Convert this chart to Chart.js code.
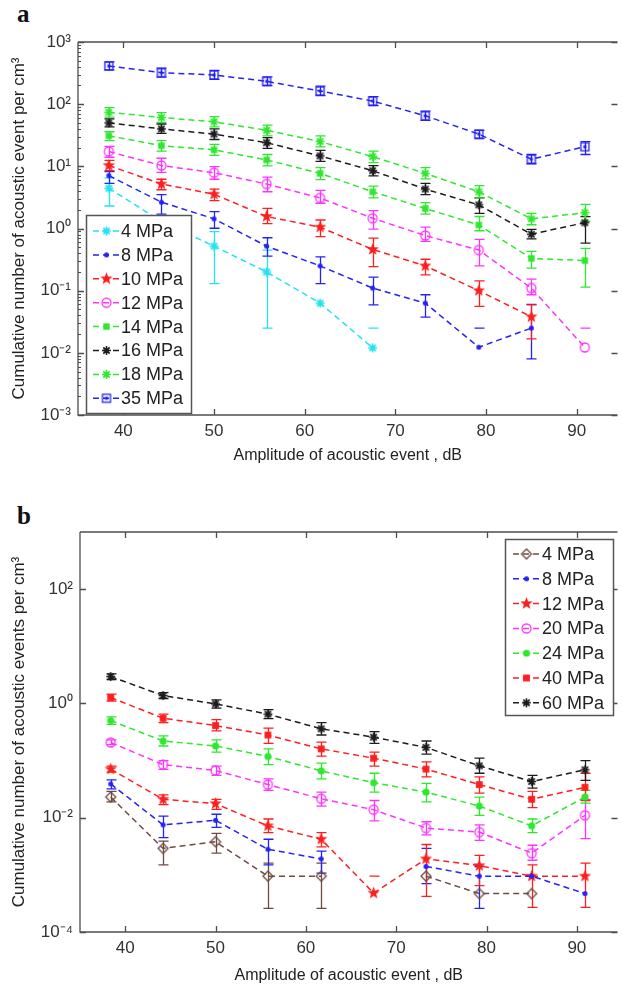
<!DOCTYPE html>
<html><head><meta charset="utf-8">
<script src="https://cdn.jsdelivr.net/npm/chart.js@4.4.1/dist/chart.umd.min.js"></script>
<style>
html,body{margin:0;padding:0;background:#fff;overflow:hidden;width:623px;height:989px;}
#ca{position:absolute;left:0;top:0;}
#cb{position:absolute;left:0;top:480px;}
.lbl{position:absolute;font-family:'Liberation Serif',serif;font-weight:bold;font-size:25px;line-height:1;color:#111;}
</style></head><body>
<div class="lbl" style="left:17px;top:1px">a</div>
<div class="lbl" style="left:17px;top:503px">b</div>
<canvas id="ca" width="623" height="470"></canvas>
<canvas id="cb" width="623" height="509"></canvas>
<script>
// ---------- DATA ----------
const amplitudes = [38.4, 44.2, 50.0, 55.8, 61.7, 67.5, 73.3, 79.2, 85.0, 90.9];
const xTicks = [40, 50, 60, 70, 80, 90];
const yTicksA = [1e-3, 1e-2, 1e-1, 1, 10, 100, 1000];
const yTickLabelsA = ['10⁻³', '10⁻²', '10⁻¹', '10⁰', '10¹', '10²', '10³'];
const yTicksB = [1e-4, 1e-2, 1, 100];
const yTickLabelsB = ['10⁻⁴', '10⁻²', '10⁰', '10²'];

const labelsA = ['4 MPa', '8 MPa', '10 MPa', '12 MPa', '14 MPa', '16 MPa', '18 MPa', '35 MPa'];
const a4   = [4.45, 1.3, 0.52, 0.2, 0.063, 0.012, null, null, null, null];
const a4Hi = [6.5, 1.6, 0.89, 0.45, null, 0.025, null, null, null, null];
const a4Lo = [2.3, 0.9, 0.13, 0.025, null, null, null, null, null, null];
const a8   = [7.1, 2.65, 1.43, 0.52, 0.25, 0.11, 0.063, 0.0123, 0.025, null];
const a8Hi = [8.2, 3.5, 1.87, 0.71, 0.35, 0.165, 0.086, 0.025, 0.06, null];
const a8Lo = [5.3, 1.7, 1.01, 0.36, 0.13, 0.059, 0.0375, null, 0.008, null];
const a10   = [10.3, 5.2, 3.56, 1.56, 1.05, 0.46, 0.25, 0.1, 0.038, null];
const a10Hi = [12.5, 6.2, 4.3, 2.1, 1.37, 0.70, 0.32, 0.144, 0.059, null];
const a10Lo = [8.5, 4.2, 2.8, 1.2, 0.74, 0.244, 0.18, 0.056, 0.0168, null];
const a12   = [17.3, 10.3, 7.9, 5.2, 3.1, 1.46, 0.77, 0.45, 0.11, 0.0122];
const a12Hi = [21, 13.5, 9.9, 6.7, 4.1, 1.94, 1.05, 0.67, 0.153, 0.025];
const a12Lo = [14, 8.0, 6.2, 3.9, 2.55, 0.975, 0.62, 0.25, 0.086, null];
const a14   = [31, 21.5, 18.4, 12.7, 7.7, 3.9, 2.1, 1.14, 0.33, 0.305];
const a14Hi = [36, 26, 22.5, 15.5, 9.5, 4.8, 2.6, 1.56, 0.43, 0.48];
const a14Lo = [26, 17.5, 15, 10.2, 6.1, 3.1, 1.7, 0.92, 0.23, 0.114];
const a16   = [50, 40, 33, 24, 14.7, 8.5, 4.3, 2.4, 0.81, 1.24];
const a16Hi = [58, 48, 40, 29, 18, 10.3, 5.3, 3.1, 0.97, 1.55];
const a16Lo = [43, 34, 27, 19.5, 12, 7, 3.5, 1.75, 0.68, 0.58];
const a18   = [74, 61, 52, 38, 25, 14.3, 7.7, 3.9, 1.43, 1.8];
const a18Hi = [88, 73, 63, 46, 31, 17.5, 9.5, 4.9, 1.75, 2.45];
const a18Lo = [62, 51, 43, 31, 20.5, 11.5, 6.3, 3.1, 1.15, 1.3];
const a35   = [411, 321, 295, 233, 163, 112, 65, 33, 13, 20.7];
const a35Hi = [480, 380, 350, 275, 195, 132, 77, 38, 15.5, 25];
const a35Lo = [355, 272, 250, 198, 137, 95, 55, 28, 11, 15.5];

const labelsB = ['4 MPa', '8 MPa', '12 MPa', '20 MPa', '24 MPa', '40 MPa', '60 MPa'];
const b4   = [0.023, 0.0029, 0.0038, 0.00095, 0.00095, null, 0.00095, 0.00047, 0.00047, null];
const b4Hi = [0.029, 0.0039, 0.0053, 0.0016, 0.0016, null, null, null, null, null];
const b4Lo = [0.019, 0.0015, 0.0024, 0.00026, 0.00026, null, null, null, null, null];
const b8   = [0.039, 0.0075, 0.009, 0.0028, 0.0019, null, 0.0014, 0.00095, 0.00095, 0.00047];
const b8Hi = [0.046, 0.0107, 0.0115, 0.0042, 0.0026, null, 0.0029, 0.0014, null, null];
const b8Lo = [0.032, 0.0045, 0.0068, 0.0015, 0.00107, null, 0.0007, 0.00026, null, null];
const b12   = [0.071, 0.021, 0.0176, 0.0072, 0.0042, 0.00048, 0.0019, 0.00145, 0.00095, 0.00095];
const b12Hi = [0.08, 0.025, 0.021, 0.0095, 0.0055, 0.00095, 0.0034, 0.0022, 0.0015, 0.0016];
const b12Lo = [0.063, 0.017, 0.014, 0.0055, 0.0031, null, 0.00042, 0.00065, 0.00027, 0.00027];
const b20   = [0.207, 0.085, 0.067, 0.038, 0.0215, 0.0138, 0.0066, 0.0056, 0.0024, 0.011];
const b20Hi = [0.23, 0.1, 0.08, 0.048, 0.028, 0.02, 0.0085, 0.0075, 0.0033, 0.021];
const b20Lo = [0.19, 0.07, 0.055, 0.03, 0.016, 0.0088, 0.005, 0.004, 0.0018, 0.0043];
const b24   = [0.5, 0.22, 0.18, 0.118, 0.066, 0.041, 0.028, 0.016, 0.0072, 0.023];
const b24Hi = [0.58, 0.27, 0.23, 0.16, 0.09, 0.06, 0.04, 0.023, 0.0095, 0.03];
const b24Lo = [0.43, 0.18, 0.14, 0.085, 0.048, 0.028, 0.019, 0.011, 0.0055, 0.018];
const b40   = [1.27, 0.55, 0.41, 0.28, 0.16, 0.11, 0.071, 0.038, 0.021, 0.034];
const b40Hi = [1.45, 0.65, 0.52, 0.37, 0.21, 0.14, 0.095, 0.052, 0.029, 0.06];
const b40Lo = [1.1, 0.46, 0.33, 0.2, 0.12, 0.08, 0.052, 0.027, 0.015, 0.02];
const b60   = [2.95, 1.37, 0.98, 0.65, 0.36, 0.257, 0.17, 0.081, 0.043, 0.069];
const b60Hi = [3.3, 1.55, 1.15, 0.78, 0.46, 0.32, 0.22, 0.11, 0.055, 0.1];
const b60Lo = [2.6, 1.22, 0.83, 0.54, 0.28, 0.2, 0.13, 0.06, 0.033, 0.045];

// ---------- STYLE ----------
const FONT = "'Liberation Sans', Arial, sans-serif";
const C = {cyan:'#22e3ee', blue:'#2323f5', red:'#ff1e1e', mag:'#ff33ff', green:'#2ee82e', black:'#1c1c1c', brown:'#6e4b40'};

function marker(kind, color, r) {
  const s = Math.ceil(r * 2 + 4);
  const c = document.createElement('canvas');
  c.width = s; c.height = s;
  const g = c.getContext('2d');
  const m = s / 2;
  g.strokeStyle = color; g.fillStyle = color; g.lineWidth = 1.3;
  g.beginPath();
  if (kind === 'dot') { g.arc(m, m, r, 0, Math.PI * 2); g.fill(); }
  else if (kind === 'ocircle') { g.arc(m, m, r, 0, Math.PI * 2); g.stroke(); }
  else if (kind === 'square') { g.fillRect(m - r, m - r, 2 * r, 2 * r); }
  else if (kind === 'osquare') { g.strokeRect(m - r, m - r, 2 * r, 2 * r); g.fillRect(m - 1.5, m - 1.5, 3, 3); }
  else if (kind === 'odiamond') { g.moveTo(m, m - r); g.lineTo(m + r, m); g.lineTo(m, m + r); g.lineTo(m - r, m); g.closePath(); g.stroke(); }
  else if (kind === 'pentagram') {
    for (let k = 0; k < 10; k++) {
      const rr = k % 2 ? r * 0.42 : r;
      const ang = -Math.PI / 2 + k * Math.PI / 5;
      const px = m + rr * Math.cos(ang), py = m + rr * Math.sin(ang);
      k ? g.lineTo(px, py) : g.moveTo(px, py);
    }
    g.closePath(); g.fill();
  }
  else if (kind === 'asterisk') {
    g.lineWidth = 1.6;
    for (let k = 0; k < 4; k++) {
      const ang = k * Math.PI / 4;
      g.moveTo(m - r * Math.cos(ang), m - r * Math.sin(ang));
      g.lineTo(m + r * Math.cos(ang), m + r * Math.sin(ang));
    }
    g.stroke();
  }
  return c;
}

function mkDataset(label, vals, hi, lo, color, pt) {
  return {
    label, data: amplitudes.map((x, i) => ({x, y: vals[i]})),
    errHi: hi, errLo: lo,
    borderColor: color, backgroundColor: color, borderWidth: 1.5, borderDash: [6, 4],
    pointStyle: pt, pointRadius: 4, fill: false, tension: 0, spanGaps: false
  };
}

const errorBars = {
  id: 'errorBars',
  beforeDatasetsDraw(chart) {
    const {ctx, chartArea: ca, scales: {x, y}} = chart;
    ctx.save();
    ctx.beginPath(); ctx.rect(ca.left, ca.top, ca.right - ca.left, ca.bottom - ca.top); ctx.clip();
    ctx.lineWidth = 1.3; ctx.setLineDash([]);
    chart.data.datasets.forEach(ds => {
      const hi = ds.errHi, lo = ds.errLo;
      if (!hi) return;
      ctx.strokeStyle = ds.borderColor;
      amplitudes.forEach((xv, i) => {
        if (hi[i] == null) return;
        const px = Math.round(x.getPixelForValue(xv)) + 0.5;
        const yh = y.getPixelForValue(hi[i]);
        ctx.beginPath();
        ctx.moveTo(px - 5, yh); ctx.lineTo(px + 5, yh);
        if (lo[i] != null) {
          const yl = y.getPixelForValue(lo[i]);
          ctx.moveTo(px, yh); ctx.lineTo(px, yl);
          ctx.moveTo(px - 5, yl); ctx.lineTo(px + 5, yl);
        }
        ctx.stroke();
      });
    });
    ctx.restore();
  }
};

function framePlugin(minor, yTicks) {
  return {
    id: 'frame',
    afterDraw(chart) {
      const {ctx, chartArea: {left, right, top, bottom}, scales: {x, y}} = chart;
      ctx.save();
      ctx.strokeStyle = '#4d4d4d'; ctx.lineWidth = 1.3; ctx.setLineDash([]);
      ctx.beginPath();
      ctx.moveTo(left, top); ctx.lineTo(right, top);
      ctx.moveTo(left, top); ctx.lineTo(left, bottom); ctx.lineTo(right, bottom);
      xTicks.forEach(v => {
        const px = Math.round(x.getPixelForValue(v)) + 0.5;
        ctx.moveTo(px, bottom); ctx.lineTo(px, bottom - 6);
        ctx.moveTo(px, top); ctx.lineTo(px, top + 6);
      });
      yTicks.forEach(v => {
        const py = Math.round(y.getPixelForValue(v)) + 0.5;
        ctx.moveTo(left, py); ctx.lineTo(left + 6, py);
        ctx.moveTo(right, py); ctx.lineTo(right - 6, py);
      });
      ctx.stroke();
      if (minor) {
        ctx.lineWidth = 1; ctx.beginPath();
        for (let i = 0; i < yTicks.length - 1; i++) {
          for (let k = 2; k <= 9; k++) {
            const py = Math.round(y.getPixelForValue(yTicks[i] * k)) + 0.5;
            ctx.moveTo(left, py); ctx.lineTo(left + 3, py);
          }
        }
        ctx.stroke();
      }
      ctx.restore();
    }
  };
}

function legendPlugin(box) {
  return {
    id: 'boxLegend',
    afterDraw(chart) {
      const ctx = chart.ctx;
      ctx.save();
      ctx.fillStyle = '#fff';
      ctx.fillRect(box.x, box.y, box.w, box.h);
      ctx.strokeStyle = '#555'; ctx.lineWidth = 1.5;
      ctx.strokeRect(box.x + 0.5, box.y + 0.5, box.w, box.h);
      ctx.font = box.size + 'px ' + FONT;
      ctx.textBaseline = 'middle';
      chart.data.datasets.forEach((ds, i) => {
        const cy = box.first + i * box.step;
        ctx.strokeStyle = ds.borderColor; ctx.lineWidth = 1.5;
        ctx.setLineDash([6, 4]);
        ctx.beginPath(); ctx.moveTo(box.lx0, cy); ctx.lineTo(box.lx1, cy); ctx.stroke();
        ctx.setLineDash([]);
        const img = ds.pointStyle;
        ctx.drawImage(img, (box.lx0 + box.lx1) / 2 - img.width / 2, cy - img.height / 2);
        ctx.fillStyle = '#222';
        ctx.fillText(ds.label, box.tx, cy + 1);
      });
      ctx.restore();
    }
  };
}

function buildOptions(o) {
  return {
    responsive: false, animation: false, events: [],
    layout: {padding: {top: o.padTop, right: 0, left: 0, bottom: 0}},
    plugins: {legend: {display: false}, tooltip: {enabled: false}},
    scales: {
      x: {
        type: 'linear', min: 35, max: 94.5,
        grid: {display: false, drawTicks: false}, border: {display: false},
        afterBuildTicks: s => { s.ticks = xTicks.map(v => ({value: v})); },
        afterFit: s => { s.height = o.xHeight; },
        ticks: {font: {family: FONT, size: 17}, color: '#333', padding: 6, maxRotation: 0, autoSkip: false},
        title: {display: true, text: 'Amplitude of acoustic event , dB', font: {family: FONT, size: 16}, color: '#222', padding: {top: 0, bottom: o.xTitlePad}}
      },
      y: {
        type: 'logarithmic', min: o.yTicks[0], max: o.yMax,
        grid: {display: false, drawTicks: false}, border: {display: false},
        afterBuildTicks: s => { s.ticks = o.yTicks.map(v => ({value: v})); },
        afterFit: s => { s.width = o.yWidth; },
        ticks: {font: {family: FONT, size: 17}, color: '#333', padding: 7, autoSkip: false,
          callback: v => { const i = o.yTicks.findIndex(t => Math.abs(Math.log10(t) - Math.log10(v)) < 1e-6); return i >= 0 ? o.yLabels[i] : ''; }},
        title: {display: true, text: o.yTitle, font: {family: FONT, size: 17}, color: '#222', padding: {top: 9, bottom: 0}}
      }
    }
  };
}

// ---------- CHART A ----------
const dsA = [
  mkDataset(labelsA[0], a4, a4Hi, a4Lo, C.cyan, marker('asterisk', C.cyan, 4.5)),
  mkDataset(labelsA[1], a8, a8Hi, a8Lo, C.blue, marker('dot', C.blue, 2.5)),
  mkDataset(labelsA[2], a10, a10Hi, a10Lo, C.red, marker('pentagram', C.red, 6.5)),
  mkDataset(labelsA[3], a12, a12Hi, a12Lo, C.mag, marker('ocircle', C.mag, 4.5)),
  mkDataset(labelsA[4], a14, a14Hi, a14Lo, C.green, marker('square', C.green, 3.2)),
  mkDataset(labelsA[5], a16, a16Hi, a16Lo, C.black, marker('asterisk', C.black, 4.5)),
  mkDataset(labelsA[6], a18, a18Hi, a18Lo, C.green, marker('asterisk', C.green, 4.5)),
  mkDataset(labelsA[7], a35, a35Hi, a35Lo, C.blue, marker('osquare', C.blue, 4))
];
new Chart(document.getElementById('ca'), {
  type: 'line',
  data: {datasets: dsA},
  options: buildOptions({padTop: 42, xHeight: 55, xTitlePad: 5, yTicks: yTicksA, yMax: 1000, yLabels: yTickLabelsA, yWidth: 78,
    yTitle: 'Cumulative number of acoustic event per cm³'}),
  plugins: [errorBars, framePlugin(true, yTicksA),
    legendPlugin({x: 86, y: 215, w: 105, h: 198, first: 231, step: 23.9, lx0: 93, lx1: 120, tx: 121, size: 18})]
});

// ---------- CHART B ----------
const dsB = [
  mkDataset(labelsB[0], b4, b4Hi, b4Lo, C.brown, marker('odiamond', C.brown, 5)),
  mkDataset(labelsB[1], b8, b8Hi, b8Lo, C.blue, marker('dot', C.blue, 2.5)),
  mkDataset(labelsB[2], b12, b12Hi, b12Lo, C.red, marker('pentagram', C.red, 6.5)),
  mkDataset(labelsB[3], b20, b20Hi, b20Lo, C.mag, marker('ocircle', C.mag, 4.5)),
  mkDataset(labelsB[4], b24, b24Hi, b24Lo, C.green, marker('dot', C.green, 3.6)),
  mkDataset(labelsB[5], b40, b40Hi, b40Lo, C.red, marker('square', C.red, 3.4)),
  mkDataset(labelsB[6], b60, b60Hi, b60Lo, C.black, marker('asterisk', C.black, 4.5))
];
new Chart(document.getElementById('cb'), {
  type: 'line',
  data: {datasets: dsB},
  options: buildOptions({padTop: 52, xHeight: 57, xTitlePad: 4, yTicks: yTicksB, yMax: 1000, yLabels: yTickLabelsB, yWidth: 80,
    yTitle: 'Cumulative number of acoustic events per cm³'}),
  plugins: [errorBars, framePlugin(false, yTicksB),
    legendPlugin({x: 505, y: 59, w: 108, h: 176, first: 74, step: 24.8, lx0: 513, lx1: 540, tx: 542, size: 18})]
});
</script>
</body></html>
